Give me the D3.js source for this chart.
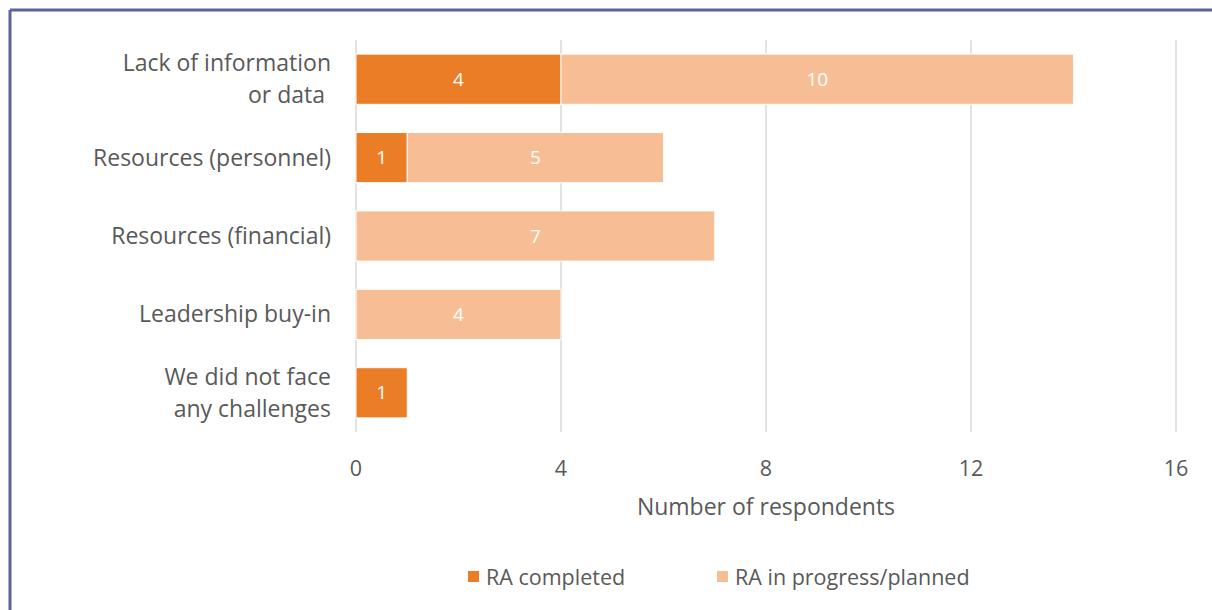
<!DOCTYPE html>
<html>
<head>
<meta charset="utf-8">
<script src="https://cdn.jsdelivr.net/npm/d3@7"></script>
<style>
  html, body { margin: 0; padding: 0; background: #fff; }
  svg { display: block; font-family: "Open Sans", Lato, sans-serif; }
</style>
</head>
<body>
<svg id="chart" width="1212" height="610"></svg>
<script>
// Challenges faced, by RA status
const categories = [
  ["Lack of information", "or data\u00a0"],
  ["Resources (personnel)"],
  ["Resources (financial)"],
  ["Leadership buy-in"],
  ["We did not face", "any challenges"]
];
const completed = [4, 1, 0, 0, 1];
const inProgress = [10, 5, 7, 4, 0];
const seriesNames = ["RA completed", "RA in progress/planned"];
const seriesColors = ["#ea7d25", "#f7be96"];
const xTicks = [0, 4, 8, 12, 16];
const xTitle = "Number of respondents";

const svg = d3.select("#chart");
const W = 1212, H = 610;

// frame lines along the top and left edges
svg.append("line").attr("x1", 10).attr("y1", 10).attr("x2", W).attr("y2", 10)
  .attr("stroke", "#5d6398").attr("stroke-width", 3);
svg.append("line").attr("x1", 10).attr("y1", 10).attr("x2", 10).attr("y2", H)
  .attr("stroke", "#5d6398").attr("stroke-width", 3);

const plot = { left: 356, right: 1176, top: 40, bottom: 432 };

const x = d3.scaleLinear().domain([0, 16]).range([plot.left, plot.right]);
const y = d3.scaleBand().domain(d3.range(categories.length))
  .range([plot.top, plot.bottom]).paddingInner(0.36).paddingOuter(0.18);

// vertical gridlines
svg.append("g").selectAll("line").data(xTicks).join("line")
  .attr("x1", d => x(d)).attr("x2", d => x(d))
  .attr("y1", plot.top).attr("y2", plot.bottom)
  .attr("stroke", "#d9d9d9").attr("stroke-width", 1.5);

// stacked segments
const rows = categories.map((c, i) => ({ i, vals: [completed[i], inProgress[i]] }));
const segs = [];
rows.forEach(r => {
  let acc = 0;
  r.vals.forEach((v, s) => {
    if (v > 0) segs.push({ i: r.i, s, x0: acc, x1: acc + v, v });
    acc += v;
  });
});

const bars = svg.append("g");
bars.selectAll("rect").data(segs).join("rect")
  .attr("x", d => x(d.x0)).attr("width", d => x(d.x1) - x(d.x0))
  .attr("y", d => y(d.i)).attr("height", y.bandwidth())
  .attr("fill", d => seriesColors[d.s])
  .attr("stroke", "#fff").attr("stroke-width", 1);

bars.selectAll("text").data(segs).join("text")
  .attr("x", d => (x(d.x0) + x(d.x1)) / 2)
  .attr("y", d => y(d.i) + y.bandwidth() / 2)
  .attr("dy", "0.35em").attr("text-anchor", "middle")
  .attr("fill", "#fff").attr("font-size", 19)
  .text(d => d.v);

// category labels
const catG = svg.append("g");
categories.forEach((lines, i) => {
  const cy = y(i) + y.bandwidth() / 2;
  const lh = 32;
  const t = catG.append("text").attr("text-anchor", "end")
    .attr("fill", "#595959").attr("font-size", 23);
  lines.forEach((ln, k) => {
    t.append("tspan").attr("x", 331)
      .attr("y", cy + (k - (lines.length - 1) / 2) * lh)
      .attr("dy", "0.35em").text(ln);
  });
});

// x tick labels
svg.append("g").selectAll("text").data(xTicks).join("text")
  .attr("x", d => x(d)).attr("y", 468).attr("dy", "0.35em")
  .attr("text-anchor", "middle").attr("fill", "#595959").attr("font-size", 21.5)
  .text(d => d);

// axis title
svg.append("text").attr("x", (plot.left + plot.right) / 2).attr("y", 507)
  .attr("dy", "0.35em").attr("text-anchor", "middle")
  .attr("fill", "#595959").attr("font-size", 23).text(xTitle);

// legend
const legendX = [468, 717];
const lg = svg.append("g");
seriesNames.forEach((name, s) => {
  lg.append("rect").attr("x", legendX[s]).attr("y", 571)
    .attr("width", 11).attr("height", 11).attr("fill", seriesColors[s]);
  lg.append("text").attr("x", legendX[s] + 18).attr("y", 577).attr("dy", "0.35em")
    .attr("fill", "#595959").attr("font-size", 21.5).text(name);
});
</script>
</body>
</html>
